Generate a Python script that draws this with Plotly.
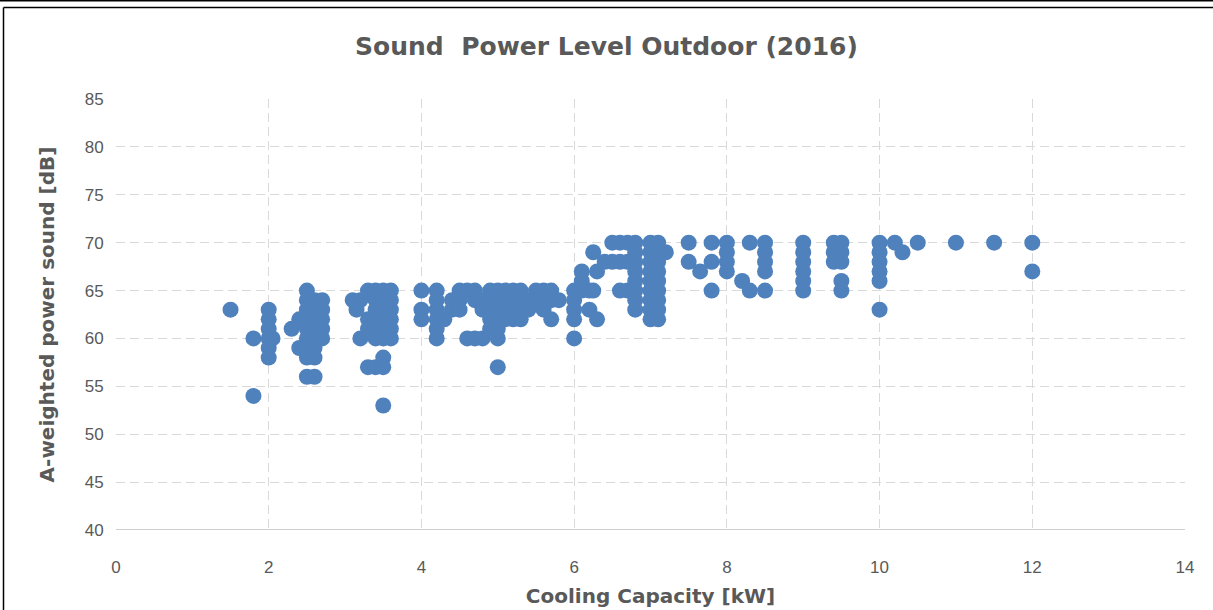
import plotly.graph_objects as go

# Outdoor unit sound power level vs. cooling capacity (2016 models)
capacity_kw = [
    1.5,
    1.8, 1.8,
    2.0, 2.0, 2.0, 2.0, 2.0, 2.0,
    2.05,
    2.3,
    2.4, 2.4,
    2.5, 2.5, 2.5, 2.5, 2.5, 2.5, 2.5, 2.5, 2.5,
    2.6, 2.6, 2.6, 2.6, 2.6, 2.6, 2.6, 2.6,
    2.7, 2.7, 2.7, 2.7, 2.7,
    3.1, 3.15,
    3.2, 3.2,
    3.3, 3.3, 3.3, 3.3,
    3.4, 3.4, 3.4, 3.4, 3.4, 3.4, 3.4,
    3.5, 3.5, 3.5, 3.5, 3.5, 3.5, 3.5, 3.5, 3.5,
    3.6, 3.6, 3.6, 3.6, 3.6, 3.6,
    4.0, 4.0, 4.0,
    4.2, 4.2, 4.2, 4.2, 4.2, 4.2,
    4.3,
    4.4, 4.4,
    4.5, 4.5, 4.5,
    4.6, 4.6,
    4.7, 4.7, 4.7,
    4.8, 4.8, 4.8,
    4.9, 4.9, 4.9, 4.9,
    5.0, 5.0, 5.0, 5.0, 5.0, 5.0, 5.0,
    5.1, 5.1, 5.1, 5.1,
    5.2, 5.2, 5.2, 5.2,
    5.3, 5.3, 5.3, 5.3,
    5.4, 5.4,
    5.5, 5.5,
    5.6, 5.6, 5.6,
    5.7, 5.7, 5.7,
    5.8,
    6.0, 6.0, 6.0, 6.0, 6.0,
    6.1, 6.1, 6.1,
    6.2, 6.2,
    6.25, 6.25,
    6.3, 6.3,
    6.4,
    6.5, 6.5,
    6.6, 6.6, 6.6,
    6.7, 6.7, 6.7,
    6.8, 6.8, 6.8, 6.8, 6.8, 6.8, 6.8, 6.8,
    7.0, 7.0, 7.0, 7.0, 7.0, 7.0, 7.0, 7.0, 7.0,
    7.1, 7.1, 7.1, 7.1, 7.1, 7.1, 7.1, 7.1, 7.1,
    7.2,
    7.5, 7.5,
    7.65,
    7.8, 7.8, 7.8,
    8.0, 8.0, 8.0, 8.0,
    8.2,
    8.3, 8.3,
    8.5, 8.5, 8.5, 8.5, 8.5,
    9.0, 9.0, 9.0, 9.0, 9.0, 9.0,
    9.4, 9.4, 9.4,
    9.5, 9.5, 9.5, 9.5, 9.5,
    10.0, 10.0, 10.0, 10.0, 10.0, 10.0,
    10.2, 10.3, 10.5, 11.0, 11.5,
    12.0, 12.0,
]

sound_db = [
    63,
    60, 54,
    63, 62, 61, 60, 59, 58,
    60,
    61,
    62, 59,
    65, 64, 63, 62, 61, 60, 59, 58, 56,
    64, 63, 62, 61, 60, 59, 58, 56,
    64, 63, 62, 61, 60,
    64, 63,
    60, 64,
    65, 62, 61, 57,
    65, 64, 63, 62, 61, 60, 57,
    65, 64, 63, 62, 61, 60, 58, 57, 53,
    65, 64, 63, 62, 61, 60,
    65, 63, 62,
    65, 64, 63, 62, 61, 60,
    62,
    64, 63,
    65, 64, 63,
    65, 60,
    65, 64, 60,
    64, 63, 60,
    65, 63, 62, 61,
    65, 64, 63, 62, 61, 60, 57,
    65, 64, 63, 62,
    65, 64, 63, 62,
    65, 64, 63, 62,
    64, 63,
    65, 64,
    65, 64, 63,
    65, 64, 62,
    64,
    65, 64, 63, 62, 60,
    67, 66, 65,
    63, 65,
    69, 65,
    67, 62,
    68,
    70, 68,
    70, 68, 65,
    70, 68, 65,
    70, 69, 68, 67, 66, 65, 64, 63,
    70, 69, 68, 67, 66, 65, 64, 63, 62,
    70, 69, 68, 67, 66, 65, 64, 63, 62,
    69,
    70, 68,
    67,
    70, 68, 65,
    70, 69, 68, 67,
    66,
    70, 65,
    70, 69, 68, 67, 65,
    70, 69, 68, 67, 66, 65,
    70, 69, 68,
    70, 69, 68, 66, 65,
    70, 69, 68, 67, 66, 63,
    70, 69, 70, 70, 70,
    70, 67,
]

x_ticks = [0, 2, 4, 6, 8, 10, 12, 14]
y_ticks = [40, 45, 50, 55, 60, 65, 70, 75, 80, 85]

TEXT = "#595959"
GRID = "#D9D9D9"
TICK_FONT = dict(family="Liberation Sans", size=17, color=TEXT)
TITLE_FONT = dict(family="DejaVu Sans", size=20, color=TEXT, weight="bold")

fig = go.Figure(
    go.Scatter(
        x=capacity_kw,
        y=sound_db,
        mode="markers",
        marker=dict(size=16, color="#4F81BD", line=dict(width=0)),
        hoverinfo="x+y",
    )
)

fig.update_layout(
    width=1213,
    height=610,
    margin=dict(l=116, r=28, t=99, b=80, autoexpand=False),
    paper_bgcolor="white",
    plot_bgcolor="white",
    showlegend=False,
    title=dict(
        text="Sound&nbsp;&nbsp;Power Level Outdoor (2016)",
        x=0.5,
        xanchor="center",
        y=1 - 46 / 610,
        yanchor="middle",
        font=dict(family="DejaVu Sans", size=25, color=TEXT, weight="bold"),
    ),
)

fig.update_xaxes(
    range=[0, 14],
    tickvals=x_ticks,
    automargin=False,
    showgrid=True,
    gridcolor=GRID,
    griddash="9px,5px",
    gridwidth=1.3,
    zeroline=False,
    showline=False,
    ticks="outside",
    ticklen=22,
    tickcolor="rgba(0,0,0,0)",
    tickfont=TICK_FONT,
    title=dict(text="Cooling Capacity [kW]", font=TITLE_FONT, standoff=12),
)

fig.update_yaxes(
    range=[40, 85],
    tickvals=y_ticks,
    automargin=False,
    showgrid=True,
    gridcolor=GRID,
    griddash="9px,5px",
    gridwidth=1.3,
    zeroline=False,
    showline=False,
    ticks="outside",
    ticklen=8,
    tickcolor="rgba(0,0,0,0)",
    tickfont=TICK_FONT,
    title=dict(text="A-weighted power sound [dB]", font=TITLE_FONT, standoff=24),
)

# solid baseline along the x axis
fig.add_shape(
    type="line", xref="paper", yref="y",
    x0=0, x1=1, y0=40, y1=40,
    line=dict(color="#BFBFBF", width=1.5),
)

# outer chart frame
pw, ph = 1213 - 116 - 28, 610 - 99 - 80
def px_x(p):
    return (p - 116) / pw
def px_y(p):
    return (610 - 80 - p) / ph

fig.add_shape(type="line", xref="paper", yref="paper",
              x0=px_x(0), x1=px_x(1213), y0=px_y(0.7), y1=px_y(0.7),
              line=dict(color="black", width=1.5))
fig.add_shape(type="line", xref="paper", yref="paper",
              x0=px_x(3.5), x1=px_x(1213), y0=px_y(7.5), y1=px_y(7.5),
              line=dict(color="black", width=1.5))
fig.add_shape(type="line", xref="paper", yref="paper",
              x0=px_x(3.5), x1=px_x(3.5), y0=px_y(7.5), y1=px_y(612),
              line=dict(color="black", width=1.5))

fig.write_html("out.html")
